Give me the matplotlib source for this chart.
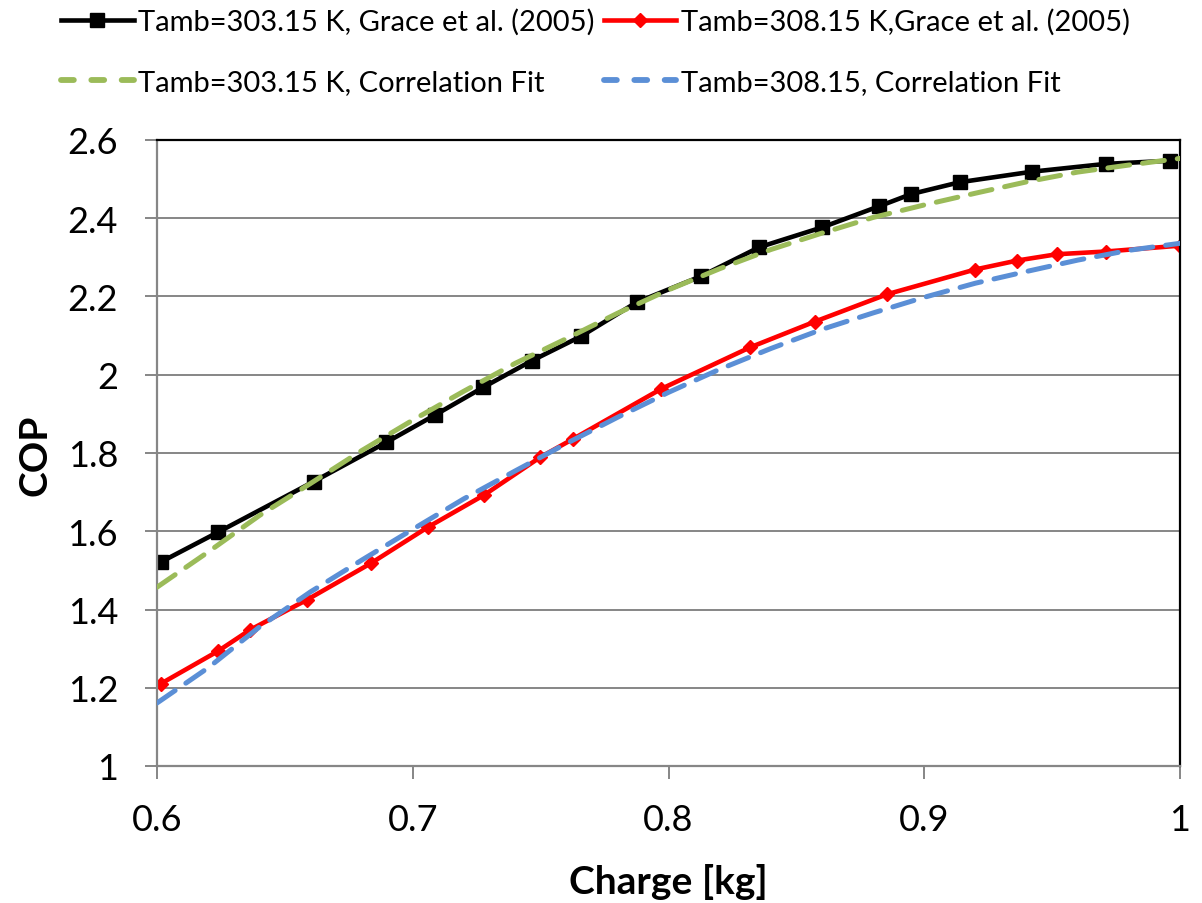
import matplotlib
matplotlib.use("Agg")
import matplotlib.pyplot as plt
from matplotlib.lines import Line2D

# Experimental data, Grace et al. (2005)
x_303 = [0.6014, 0.6237, 0.6613, 0.6896, 0.7087, 0.7276, 0.7466, 0.7657, 0.7875,
         0.8128, 0.8355, 0.8602, 0.8825, 0.8950, 0.9138, 0.9421, 0.9710, 0.9962]
cop_303 = [1.521, 1.597, 1.727, 1.827, 1.897, 1.968, 2.036, 2.098, 2.185,
           2.252, 2.326, 2.377, 2.431, 2.462, 2.492, 2.519, 2.539, 2.547]

x_308 = [0.6014, 0.6237, 0.6364, 0.6587, 0.6836, 0.7058, 0.7280, 0.7498, 0.7627,
         0.7972, 0.8319, 0.8573, 0.8856, 0.9199, 0.9364, 0.9518, 0.9710, 1.0]
cop_308 = [1.210, 1.293, 1.348, 1.425, 1.518, 1.610, 1.693, 1.789, 1.836,
           1.964, 2.070, 2.136, 2.206, 2.269, 2.292, 2.308, 2.315, 2.330]

# Correlation fits
x_fit = [0.60, 0.62, 0.64, 0.66, 0.68, 0.70, 0.72, 0.74, 0.76, 0.78, 0.80,
         0.82, 0.84, 0.86, 0.88, 0.90, 0.92, 0.94, 0.96, 0.98, 1.00]
fit_303 = [1.457, 1.547, 1.640, 1.722, 1.806, 1.884, 1.958, 2.029, 2.092, 2.157, 2.217,
           2.271, 2.320, 2.362, 2.402, 2.434, 2.464, 2.493, 2.518, 2.536, 2.553]
fit_308 = [1.161, 1.251, 1.355, 1.445, 1.526, 1.605, 1.683, 1.754, 1.824, 1.891, 1.955,
           2.014, 2.067, 2.116, 2.158, 2.198, 2.234, 2.264, 2.293, 2.318, 2.336]

labels = ["Tamb=303.15 K, Grace et al. (2005)",
          "Tamb=308.15 K,Grace et al. (2005)",
          "Tamb=303.15 K, Correlation Fit",
          "Tamb=308.15, Correlation Fit"]

x_ticks = [0.6, 0.7, 0.8, 0.9, 1.0]
x_ticklabels = ["0.6", "0.7", "0.8", "0.9", "1"]
y_ticks = [1.0, 1.2, 1.4, 1.6, 1.8, 2.0, 2.2, 2.4, 2.6]
y_ticklabels = ["1", "1.2", "1.4", "1.6", "1.8", "2", "2.2", "2.4", "2.6"]

plt.rcParams['font.family'] = ['Lato', 'DejaVu Sans']

fig = plt.figure(figsize=(12.02, 9.04), dpi=100)
L, R, B, T = 157, 1180, 767, 141
W, H = 1202, 904
ax = fig.add_axes([L / W, 1 - B / H, (R - L) / W, (B - T) / H])

GREEN = "#9BBB59"
BLUE = "#5B8FD6"
GRID = "#868686"

l_fit303, = ax.plot(x_fit, fit_303, color=GREEN, lw=3.6, dashes=(4.4, 2.6),
                    dash_capstyle='round', zorder=3)
l_fit308, = ax.plot(x_fit, fit_308, color=BLUE, lw=3.6, dashes=(4.4, 2.6),
                    dash_capstyle='round', zorder=3)
l_303, = ax.plot(x_303, cop_303, color="black", lw=3.3, marker='s', markersize=10.5,
                 zorder=2)
l_308, = ax.plot(x_308, cop_308, color="#FF0000", lw=3.3, marker='D', markersize=7.5,
                 zorder=2.5)

ax.set_xlim(0.6, 1.0)
ax.set_ylim(1.0, 2.6)
ax.set_xticks(x_ticks)
ax.set_xticklabels(x_ticklabels)
ax.set_yticks(y_ticks)
ax.set_yticklabels(y_ticklabels)
ax.yaxis.grid(True, color=GRID, lw=1.4, zorder=0)
ax.set_axisbelow(True)

for s in ['left', 'bottom']:
    ax.spines[s].set_color(GRID)
    ax.spines[s].set_linewidth(1.6)
for s in ['top', 'right']:
    ax.spines[s].set_color("black")
    ax.spines[s].set_linewidth(1.6)

ax.tick_params(axis='both', which='major', direction='out', length=9, width=1.4,
               color=GRID, labelsize=26, pad=18)
ax.tick_params(axis='y', pad=19)

ax.set_xlabel("Charge [kg]", fontsize=28, fontweight='bold')
ax.set_ylabel("COP", fontsize=28, fontweight='bold')
ax.xaxis.label.set_va('center')
ax.yaxis.label.set_va('center')
ax.xaxis.set_label_coords((668 - L) / (R - L), (B - 882) / (B - T))
ax.yaxis.set_label_coords((35 - L) / (R - L), (B - 455) / (B - T))

# legend proxies for the dashed fits: two round-capped dashes like the original
h_fit303 = Line2D([], [], color=GREEN, lw=4.2, dashes=(2.2, 3.0), dash_capstyle='round')
h_fit308 = Line2D([], [], color=BLUE, lw=4.2, dashes=(2.2, 3.0), dash_capstyle='round')

handles = [l_303, h_fit303, l_308, h_fit308]
leg_labels = [labels[0], labels[2], labels[1], labels[3]]
fig.legend(handles, leg_labels, loc='upper left', bbox_to_anchor=(61 / W, 1 - 9 / H),
           ncol=2, frameon=False, fontsize=21, handlelength=2.5, handletextpad=0.15,
           columnspacing=0.3, labelspacing=1.17, borderaxespad=0, borderpad=0)

fig.savefig("out.png", dpi=100)
